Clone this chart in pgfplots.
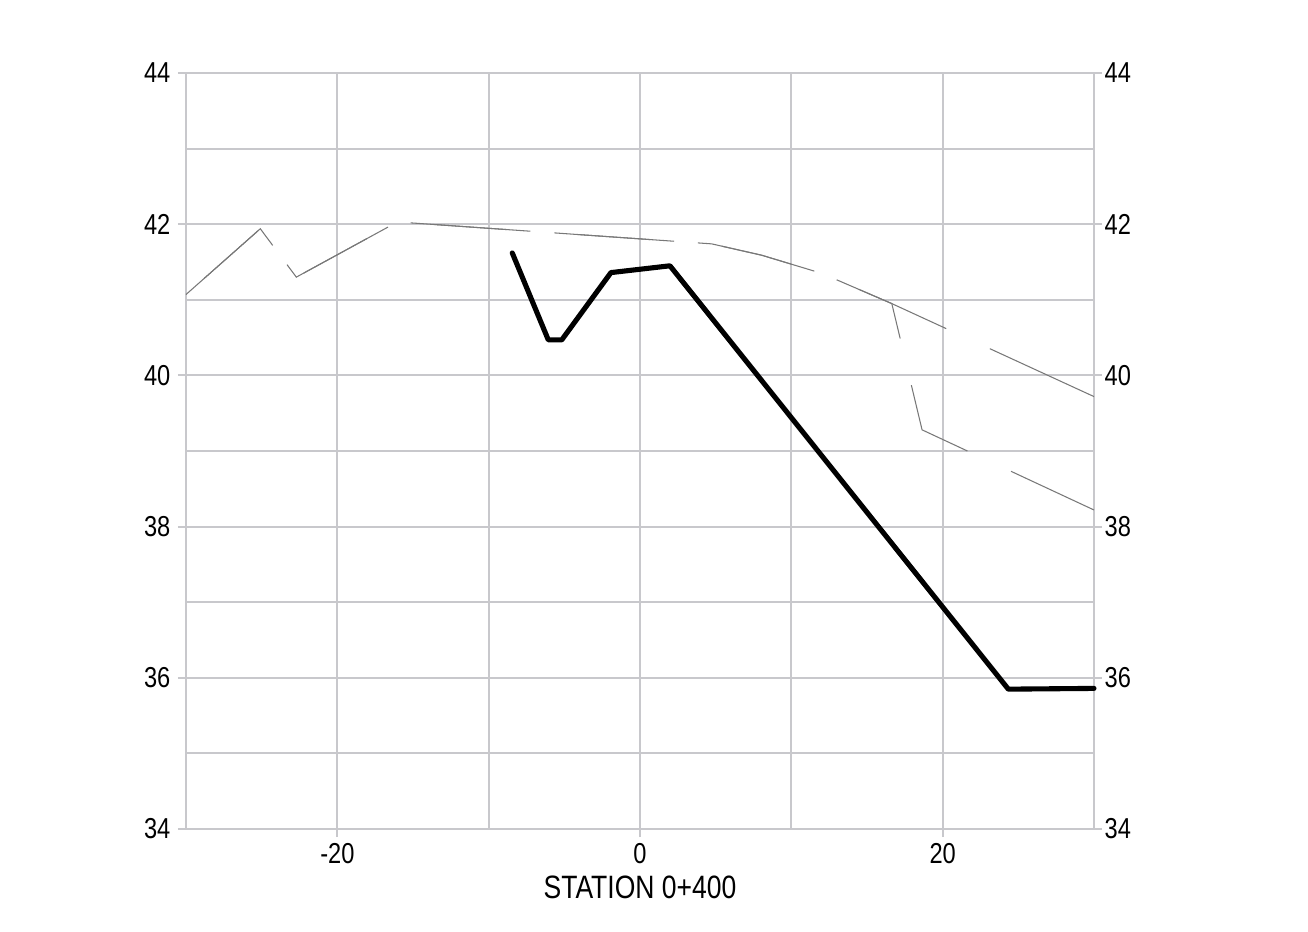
\documentclass[border=0pt]{standalone}
\usepackage{fontspec}
\setmainfont[FakeStretch=0.82]{Liberation Sans}
\usepackage{pgfplots}
\pgfplotsset{compat=1.18}
\definecolor{gridc}{RGB}{200,200,204}
\definecolor{prof}{RGB}{120,120,120}
\newcommand{\lblfont}{\fontsize{8.2}{9.8}\selectfont}
\newcommand{\xlblfont}{\fontsize{9.2}{11}\selectfont}
\begin{document}
\begin{tikzpicture}
\begin{axis}[
  at={(0,0)}, anchor=south west,
  scale only axis, width=90.8mm, height=75.6mm,
  xmin=-30, xmax=30, ymin=34, ymax=44,
  xtick={-20,0,20}, minor xtick={-10,10},
  ytick={34,36,...,44}, minor ytick={35,37,...,43},
  grid=both,
  major grid style={draw=gridc, line width=0.55pt},
  minor grid style={draw=gridc, line width=0.55pt},
  axis line style={draw=gridc, line width=0.55pt},
  tick style={draw=gridc, line width=0.55pt},
  tick align=outside,
  major tick length=0.8mm, minor tick length=0pt,
  xtick pos=bottom, ytick pos=both, yticklabel pos=left,
  /pgf/number format/assume math mode=true,
  ticklabel style={font=\lblfont, inner sep=0pt},
  xticklabel style={yshift=-0.6mm},
  yticklabel style={xshift=-0.7mm},
  xlabel={STATION 0+400},
  xlabel style={at={(axis description cs:0.5,0)}, anchor=north, yshift=-4.6mm, inner sep=0pt, font=\xlblfont},
  clip=false,
]
% upper existing profile
\addplot[prof, line width=0.3pt, dash pattern=on 0mm off 2.4mm on 9.6mm off 4.8mm on 9.6mm off 4.8mm on 9.6mm off 4.8mm on 9.6mm off 4.8mm on 9.6mm off 4.8mm on 9.6mm off 4.8mm on 20mm] coordinates {
  (-30,41.07) (-25.09,41.94) (-22.71,41.30) (-16.03,42.03) (4.74,41.74)
  (8.04,41.59) (12.01,41.35) (16.64,40.95) (30,39.72)
};
% lower profile
\addplot[prof, line width=0.3pt, dash pattern=on 9.6mm off 4.8mm] coordinates {
  (-30,41.07) (-25.09,41.94) (-22.71,41.30) (-16.03,42.03) (4.74,41.74)
  (8.04,41.59) (12.01,41.35) (16.64,40.95) (18.64,39.28) (30,38.22)
};
% design section
\addplot[black, line width=1.45pt, line cap=round, line join=round] coordinates {
  (-8.44,41.62) (-6.06,40.47) (-5.17,40.47) (-1.92,41.36) (1.98,41.45)
  (24.34,35.85) (30,35.86)
};
\end{axis}
\begin{axis}[
  at={(0,0)}, anchor=south west,
  scale only axis, width=90.8mm, height=75.6mm,
  xmin=-30, xmax=30, ymin=34, ymax=44,
  hide x axis, axis y line*=right,
  y axis line style={draw=none},
  ytick={34,36,...,44}, ytick style={draw=none},
  major tick length=0pt,
  /pgf/number format/assume math mode=true,
  yticklabel style={font=\lblfont, inner sep=0pt, xshift=1.0mm},
]
\end{axis}
\pgfresetboundingbox
\useasboundingbox (-18.6mm,-10.2mm) rectangle (112.2mm,82.9mm);
\end{tikzpicture}
\end{document}
